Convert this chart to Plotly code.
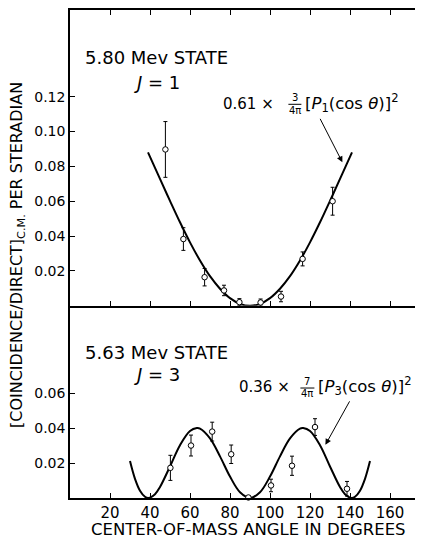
import plotly.graph_objects as go
from plotly.subplots import make_subplots

# 5.80 Mev state (J = 1) - measured points
top_angle = [47.7, 56.7, 67.3, 77.0, 84.7, 95.3, 105.5, 116.3, 131.3]
top_ratio = [0.0897, 0.0383, 0.0164, 0.0088, 0.0021, 0.0019, 0.0053, 0.0269, 0.0600]
top_err = [0.016, 0.0065, 0.005, 0.003, 0.002, 0.002, 0.003, 0.004, 0.008]

# fitted curve
top_fit_angle = [39, 45, 50, 55, 60, 65, 70, 75, 80, 85, 90, 95, 100, 105, 110, 115, 120, 125, 130, 135, 141]
top_fit = [0.0880, 0.0728, 0.0602, 0.0479, 0.0364, 0.0260, 0.0170, 0.0098, 0.0044, 0.0011, 0.0,
           0.0011, 0.0044, 0.0098, 0.0170, 0.0260, 0.0364, 0.0479, 0.0602, 0.0728, 0.0880]

# 5.63 Mev state (J = 3) - measured points
bot_angle = [50.2, 60.5, 71.1, 80.6, 89.2, 100.5, 111.0, 122.5, 138.5]
bot_ratio = [0.0173, 0.0301, 0.0381, 0.0251, 0.0003, 0.0072, 0.0185, 0.0407, 0.0053]
bot_err = [0.0072, 0.006, 0.0054, 0.0053, 0.001, 0.0036, 0.0055, 0.0048, 0.0042]

bot_fit_angle = [30, 32.5, 35, 37.5, 39.2, 42.5, 45, 50, 55, 60, 63.4, 65, 70, 75, 80, 85, 90,
                 95, 100, 105, 110, 115, 116.6, 120, 125, 130, 135, 137.5, 140.8, 142.5, 145, 147.5, 150]
bot_fit = [0.0212, 0.0110, 0.0042, 0.0007, 0.0, 0.0022, 0.0063, 0.0181, 0.0303, 0.0384, 0.0401,
           0.0398, 0.0342, 0.0239, 0.0123, 0.0033, 0.0,
           0.0033, 0.0123, 0.0239, 0.0342, 0.0398, 0.0401, 0.0384, 0.0303, 0.0181, 0.0063, 0.0022,
           0.0, 0.0007, 0.0042, 0.0110, 0.0212]

x_ticks = [20, 40, 60, 80, 100, 120, 140, 160]
top_yticks = [0.02, 0.04, 0.06, 0.08, 0.10, 0.12]
bot_yticks = [0.02, 0.04, 0.06]

FONT = "DejaVu Sans"
split = 193 / 490

fig = make_subplots(rows=2, cols=1, vertical_spacing=0, row_heights=[297, 193])

pt_style = dict(mode="markers", cliponaxis=False, showlegend=False,
                marker=dict(symbol="circle", size=5.5, color="white", line=dict(color="black", width=1)))

fig.add_trace(go.Scatter(x=top_fit_angle, y=top_fit, mode="lines", line=dict(color="black", width=2, shape="spline"),
                         cliponaxis=False, showlegend=False), row=1, col=1)
fig.add_trace(go.Scatter(x=top_angle, y=top_ratio,
                         error_y=dict(type="data", array=top_err, color="black", thickness=1, width=2),
                         **pt_style), row=1, col=1)

fig.add_trace(go.Scatter(x=bot_fit_angle, y=bot_fit, mode="lines", line=dict(color="black", width=2, shape="spline"),
                         cliponaxis=False, showlegend=False), row=2, col=1)
fig.add_trace(go.Scatter(x=bot_angle, y=bot_ratio,
                         error_y=dict(type="data", array=bot_err, color="black", thickness=1, width=2),
                         **pt_style), row=2, col=1)

fig.update_layout(
    width=415, height=532,
    margin=dict(l=62, r=0, t=0, b=42),
    plot_bgcolor="white", paper_bgcolor="white",
    font=dict(family=FONT, color="black", size=15),
)

axis_common = dict(showgrid=False, zeroline=False, showline=True, linecolor="black", linewidth=1.5,
                   ticks="inside", tickcolor="black", tickwidth=1.3, ticklen=5)

fig.update_xaxes(range=[0, 176.5], tickvals=x_ticks, **axis_common)
fig.update_xaxes(showticklabels=False, mirror="ticks", row=1, col=1)
fig.update_xaxes(tickfont=dict(size=15), row=2, col=1)

fig.update_yaxes(**axis_common, tickfont=dict(size=14), tickformat=".2f")
fig.update_yaxes(range=[0, 297 / 1750], tickvals=top_yticks, domain=[split, 1], row=1, col=1)
fig.update_yaxes(range=[0, 193 / 1750], tickvals=bot_yticks, domain=[0, split], row=2, col=1)

# panel labels
fig.add_annotation(x=6.6, y=0.1423, xref="x", yref="y", text="5.80 Mev STATE", showarrow=False,
                   xanchor="left", yanchor="middle", font=dict(size=18))
fig.add_annotation(x=43.5, y=0.1282, xref="x", yref="y", text="<i>J</i> = 1", showarrow=False,
                   xanchor="center", yanchor="middle", font=dict(size=18))
fig.add_annotation(x=6.6, y=0.0836, xref="x2", yref="y2", text="5.63 Mev STATE", showarrow=False,
                   xanchor="left", yanchor="middle", font=dict(size=18))
fig.add_annotation(x=43.5, y=0.0710, xref="x2", yref="y2", text="<i>J</i> = 3", showarrow=False,
                   xanchor="center", yanchor="middle", font=dict(size=18))

# formula labels (top)
fig.add_annotation(x=103.2, y=0.116, xref="x", yref="y", text="0.61 ×", showarrow=False,
                   xanchor="right", yanchor="middle", font=dict(size=15))
fig.add_annotation(x=112.4, y=0.1196, xref="x", yref="y", text="3", showarrow=False,
                   xanchor="center", yanchor="middle", font=dict(size=10))
fig.add_annotation(x=112.4, y=0.1120, xref="x", yref="y", text="4π", showarrow=False,
                   xanchor="center", yanchor="middle", font=dict(size=10))
fig.add_shape(type="line", x0=109.2, x1=115.7, y0=0.1156, y1=0.1156, xref="x", yref="y",
              line=dict(color="black", width=1))
fig.add_annotation(x=116.3, y=0.1162, xref="x", yref="y", text="[<i>P</i><sub>1</sub>(cos <i>θ</i>)]<sup>2</sup>",
                   showarrow=False, xanchor="left", yanchor="middle", font=dict(size=16.5))
fig.add_annotation(x=136.2, y=0.0823, xref="x", yref="y", text="", showarrow=True, ax=-23, ay=-45,
                   arrowhead=2, arrowsize=1.2, arrowwidth=1, arrowcolor="black")

# formula labels (bottom)
fig.add_annotation(x=111.2, y=0.0638, xref="x2", yref="y2", text="0.36 ×", showarrow=False,
                   xanchor="right", yanchor="middle", font=dict(size=15))
fig.add_annotation(x=118.7, y=0.0668, xref="x2", yref="y2", text="7", showarrow=False,
                   xanchor="center", yanchor="middle", font=dict(size=10))
fig.add_annotation(x=118.7, y=0.0597, xref="x2", yref="y2", text="4π", showarrow=False,
                   xanchor="center", yanchor="middle", font=dict(size=10))
fig.add_shape(type="line", x0=115.2, x1=122.2, y0=0.0631, y1=0.0631, xref="x2", yref="y2",
              line=dict(color="black", width=1))
fig.add_annotation(x=123.1, y=0.0640, xref="x2", yref="y2", text="[<i>P</i><sub>3</sub>(cos <i>θ</i>)]<sup>2</sup>",
                   showarrow=False, xanchor="left", yanchor="middle", font=dict(size=16.5))
fig.add_annotation(x=127.7, y=0.0305, xref="x2", yref="y2", text="", showarrow=True, ax=25, ay=-45,
                   arrowhead=2, arrowsize=1.2, arrowwidth=1, arrowcolor="black")

# axis titles
fig.add_annotation(x=0.507, y=(490 - 522) / 490, xref="paper", yref="paper",
                   text="CENTER-OF-MASS ANGLE IN DEGREES", showarrow=False,
                   xanchor="center", yanchor="middle", font=dict(size=16.5))
fig.add_annotation(x=(10 - 62) / 353, y=(490 - 246) / 490, xref="paper", yref="paper",
                   text="[COINCIDENCE/DIRECT]<sub>C.M.</sub> PER STERADIAN", showarrow=False, textangle=-90,
                   xanchor="center", yanchor="middle", font=dict(size=16))

fig.write_html("out.html")
